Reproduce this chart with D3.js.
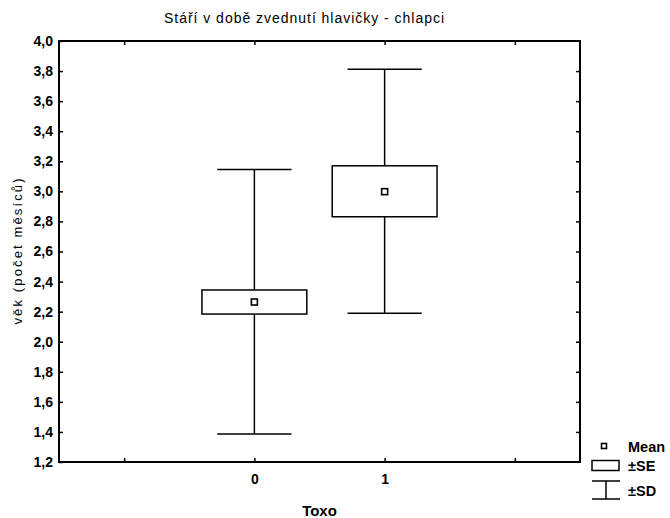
<!DOCTYPE html>
<html><head><meta charset="utf-8">
<script src="https://cdn.jsdelivr.net/npm/d3@7"></script>
<style>body{margin:0;background:#fff}svg{display:block;font-family:"Liberation Sans",Arial,sans-serif}</style>
</head><body>
<svg id="c" width="670" height="518"></svg>
<script>
const categories = ["0", "1"];
const categoryPos = [0, 1];
const means = [2.264, 2.998];
const seLow = [2.184, 2.831];
const seHigh = [2.344, 3.170];
const sdLow = [1.386, 2.189];
const sdHigh = [3.145, 3.812];
const yTicks = [1.2,1.4,1.6,1.8,2.0,2.2,2.4,2.6,2.8,3.0,3.2,3.4,3.6,3.8,4.0];
const xTicks = [-1, 0, 1, 2];

const svg = d3.select("#c");
const L = 59, R = 580, T = 41, B = 462;
const x = d3.scaleLinear().domain([-1.5, 2.5]).range([L, R]);
const y = d3.scaleLinear().domain([1.2, 4.0]).range([B, T]);
const fmt = d => d3.format(".1f")(d).replace(".", ",");

// frame
svg.append("rect").attr("x", L).attr("y", T).attr("width", R - L).attr("height", B - T)
  .attr("fill", "none").attr("stroke", "#000").attr("stroke-width", 2);

const ya = svg.append("g").attr("transform", `translate(${L},0)`)
  .call(d3.axisLeft(y).tickValues(yTicks).tickFormat(fmt).tickSize(-4).tickPadding(6));
const yr = svg.append("g").attr("transform", `translate(${R},0)`)
  .call(d3.axisRight(y).tickValues(yTicks.slice(1, -1)).tickFormat("").tickSize(-4));
const xa = svg.append("g").attr("transform", `translate(0,${B})`)
  .call(d3.axisBottom(x).tickValues(xTicks).tickFormat(d => (d === 0 || d === 1) ? categories[d] : "").tickSize(-4).tickPadding(12));
const xt = svg.append("g").attr("transform", `translate(0,${T})`)
  .call(d3.axisTop(x).tickValues(xTicks).tickFormat("").tickSize(-4));
[ya, yr, xa, xt].forEach(g => {
  g.select(".domain").remove();
  g.selectAll(".tick line").attr("stroke", "#000").attr("stroke-width", 1.5);
  g.selectAll("text").attr("fill", "#000").attr("font-size", 14).attr("font-weight", "bold")
    .attr("font-family", "'Liberation Sans',Arial,sans-serif");
});

const band = x(1) - x(0);
const boxW = band * 0.805, capW = band * 0.57;
categoryPos.forEach((c, i) => {
  const cx = x(c);
  const g = svg.append("g").attr("stroke", "#000").attr("stroke-width", 1.5).attr("fill", "none");
  g.append("line").attr("x1", cx).attr("x2", cx).attr("y1", y(sdHigh[i])).attr("y2", y(seHigh[i]));
  g.append("line").attr("x1", cx).attr("x2", cx).attr("y1", y(seLow[i])).attr("y2", y(sdLow[i]));
  g.append("line").attr("x1", cx - capW / 2).attr("x2", cx + capW / 2).attr("y1", y(sdHigh[i])).attr("y2", y(sdHigh[i]));
  g.append("line").attr("x1", cx - capW / 2).attr("x2", cx + capW / 2).attr("y1", y(sdLow[i])).attr("y2", y(sdLow[i]));
  g.append("rect").attr("x", cx - boxW / 2).attr("width", boxW)
    .attr("y", y(seHigh[i])).attr("height", y(seLow[i]) - y(seHigh[i])).attr("fill", "#fff");
  g.append("rect").attr("x", cx - 3).attr("y", y(means[i]) - 3).attr("width", 6).attr("height", 6)
    .attr("fill", "#fff").attr("stroke-width", 1.6);
});

// title
svg.append("text").attr("x", 304).attr("y", 23).attr("text-anchor", "middle")
  .attr("font-size", 14).attr("textLength", 280).attr("lengthAdjust", "spacing")
  .text("Stáří v době zvednutí hlavičky - chlapci");
// y label
svg.append("text").attr("transform", `translate(22,${(T + B) / 2}) rotate(-90)`)
  .attr("text-anchor", "middle").attr("font-size", 13).attr("textLength", 146).attr("lengthAdjust", "spacing")
  .text("věk (počet měsíců)");
// x label
svg.append("text").attr("x", x(0.5)).attr("y", 516).attr("text-anchor", "middle")
  .attr("font-size", 15).attr("font-weight", "bold").text("Toxo");

// legend
const lg = svg.append("g").attr("stroke", "#000").attr("fill", "none").attr("stroke-width", 1.5);
lg.append("rect").attr("x", 601.5).attr("y", 443.5).attr("width", 5).attr("height", 5).attr("fill", "#fff").attr("stroke-width", 1.6);
lg.append("rect").attr("x", 592).attr("y", 460.5).attr("width", 27).attr("height", 10);
lg.append("line").attr("x1", 592).attr("x2", 620).attr("y1", 481).attr("y2", 481);
lg.append("line").attr("x1", 606).attr("x2", 606).attr("y1", 481).attr("y2", 499);
lg.append("line").attr("x1", 592).attr("x2", 620).attr("y1", 499).attr("y2", 499);
const lt = svg.append("g").attr("font-size", 14.5).attr("font-weight", "bold");
lt.append("text").attr("x", 628).attr("y", 452).text("Mean");
lt.append("text").attr("x", 628).attr("y", 471).text("±SE");
lt.append("text").attr("x", 628).attr("y", 496).text("±SD");
</script>
</body></html>
